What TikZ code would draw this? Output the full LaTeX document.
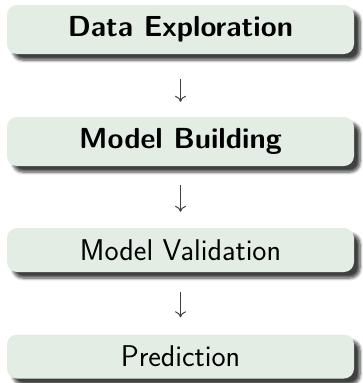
\documentclass[tikz,border=0pt]{standalone}
\usetikzlibrary{shadows.blur,calc,arrows.meta}
\definecolor{boxfill}{RGB}{227,237,228}
\tikzset{
  stage/.style={rectangle, rounded corners=10pt, fill=boxfill,
    minimum width=347pt, inner sep=0pt, font=\sffamily\fontsize{30}{36}\selectfont,
    blur shadow={shadow xshift=6pt, shadow yshift=-6pt, shadow blur steps=6,
      shadow blur radius=3pt, shadow opacity=75}},
  stagebold/.style={stage, font=\sffamily\bfseries\fontsize{29}{35}\selectfont},
  flow/.style={draw=black!75, line width=1pt, -{Computer Modern Rightarrow[length=6pt,width=11pt]}}
}
\begin{document}
\begin{tikzpicture}[x=1pt,y=1pt]
\useasboundingbox (0,0) rectangle (362,-383);
\node[stagebold, minimum height=49pt] (a) at (180.5,-29.5) {Data Exploration};
\node[stagebold, minimum height=49pt] (b) at (180.5,-141.5) {Model Building};
\node[stage, minimum height=44pt] (c) at (180.5,-250) {Model Validation};
\node[stage, minimum height=44pt] (d) at (180.5,-356.5) {Prediction};
\draw[flow] ($(a.south)+(0,-25)$) -- ($(b.north)+(0,15)$);
\draw[flow] ($(b.south)+(0,-19)$) -- ($(c.north)+(0,16)$);
\draw[flow] ($(c.south)+(0,-20)$) -- ($(d.north)+(0,17)$);
\end{tikzpicture}
\end{document}
